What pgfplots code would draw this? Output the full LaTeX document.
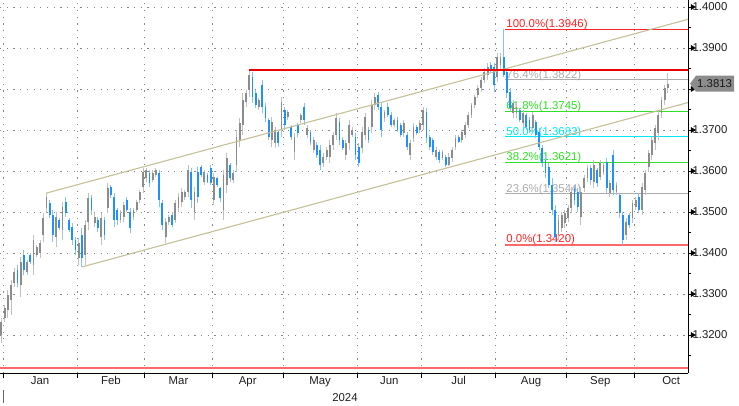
\documentclass[border=0pt]{standalone}
\usepackage{fontspec}
\setmainfont{Liberation Sans}
\usepackage{pgfplots}
\usepackage{pgfplotstable}
\pgfplotsset{compat=1.18}
\definecolor{bluebody}{RGB}{30,144,255}
\definecolor{bluewick}{RGB}{135,192,255}
\definecolor{graybody}{RGB}{140,140,140}
\definecolor{graywick}{RGB}{192,192,192}
\definecolor{chan}{RGB}{196,192,152}
\definecolor{fibred}{RGB}{255,35,35}
\definecolor{fibredz}{RGB}{255,105,105}
\definecolor{fibgreen}{RGB}{45,225,35}
\definecolor{fibcyan}{RGB}{0,232,245}
\definecolor{fibgray}{RGB}{172,172,172}
\definecolor{gridgray}{RGB}{135,135,135}
\definecolor{lpgray}{RGB}{140,140,140}
\newcommand\lf{\fontsize{11.4bp}{13.5bp}\selectfont}
\pgfplotstableread{
d o h l c
-1 1.3200 1.3241 1.3180 1.3232
0 1.3241 1.3273 1.3232 1.3266
1 1.3261 1.3310 1.3241 1.3297
2 1.3285 1.3334 1.3249 1.3322
3 1.3327 1.3363 1.3317 1.3354
5 1.3322 1.3390 1.3293 1.3378
7 1.3354 1.3383 1.3346 1.3378
9 1.3371 1.3444 1.3346 1.3432
10 1.3395 1.3420 1.3390 1.3415
11 1.3400 1.3432 1.3388 1.3424
12 1.3444 1.3498 1.3427 1.3485
13 1.3510 1.3546 1.3498 1.3537
16 1.3439 1.3500 1.3415 1.3488
18 1.3456 1.3524 1.3432 1.3512
23 1.3388 1.3437 1.3371 1.3424
25 1.3395 1.3480 1.3371 1.3468
26 1.3476 1.3546 1.3456 1.3534
28 1.3473 1.3498 1.3463 1.3488
30 1.3439 1.3498 1.3420 1.3485
32 1.3510 1.3571 1.3498 1.3559
36 1.3480 1.3505 1.3473 1.3498
37 1.3488 1.3524 1.3476 1.3517
40 1.3488 1.3510 1.3480 1.3505
41 1.3505 1.3529 1.3500 1.3524
42 1.3529 1.3554 1.3522 1.3549
43 1.3561 1.3607 1.3546 1.3597
44 1.3583 1.3607 1.3573 1.3602
46 1.3578 1.3602 1.3573 1.3595
47 1.3590 1.3607 1.3585 1.3602
50 1.3439 1.3485 1.3424 1.3476
51 1.3476 1.3493 1.3468 1.3488
53 1.3480 1.3529 1.3473 1.3522
54 1.3510 1.3546 1.3500 1.3537
55 1.3524 1.3559 1.3512 1.3549
56 1.3537 1.3554 1.3529 1.3549
57 1.3549 1.3615 1.3537 1.3602
59 1.3500 1.3561 1.3480 1.3549
62 1.3573 1.3602 1.3566 1.3597
65 1.3529 1.3595 1.3517 1.3585
68 1.3505 1.3602 1.3480 1.3590
69 1.3566 1.3644 1.3546 1.3632
71 1.3578 1.3602 1.3571 1.3595
72 1.3615 1.3700 1.3597 1.3683
73 1.3676 1.3729 1.3659 1.3717
74 1.3712 1.3790 1.3688 1.3773
75 1.3768 1.3798 1.3756 1.3790
76 1.3798 1.3846 1.3780 1.3834
79 1.3756 1.3778 1.3749 1.3773
83 1.3676 1.3732 1.3659 1.3719
84 1.3668 1.3707 1.3656 1.3700
86 1.3700 1.3780 1.3683 1.3768
88 1.3732 1.3749 1.3724 1.3744
90 1.3646 1.3693 1.3627 1.3683
92 1.3724 1.3741 1.3717 1.3737
94 1.3688 1.3712 1.3681 1.3705
96 1.3651 1.3683 1.3644 1.3676
99 1.3620 1.3644 1.3610 1.3634
100 1.3634 1.3659 1.3627 1.3651
101 1.3634 1.3676 1.3620 1.3663
102 1.3663 1.3695 1.3651 1.3688
103 1.3688 1.3741 1.3676 1.3729
106 1.3639 1.3676 1.3627 1.3668
107 1.3668 1.3724 1.3651 1.3712
108 1.3688 1.3707 1.3683 1.3700
111 1.3656 1.3707 1.3644 1.3695
112 1.3688 1.3741 1.3676 1.3732
114 1.3707 1.3773 1.3693 1.3761
115 1.3761 1.3790 1.3749 1.3780
118 1.3729 1.3749 1.3719 1.3744
121 1.3712 1.3729 1.3707 1.3724
124 1.3693 1.3724 1.3683 1.3717
126 1.3639 1.3676 1.3627 1.3668
127 1.3681 1.3717 1.3671 1.3707
129 1.3700 1.3724 1.3693 1.3717
130 1.3712 1.3756 1.3700 1.3749
134 1.3634 1.3659 1.3627 1.3651
136 1.3632 1.3651 1.3627 1.3646
138 1.3615 1.3644 1.3612 1.3634
139 1.3632 1.3659 1.3622 1.3651
140 1.3659 1.3688 1.3651 1.3681
142 1.3676 1.3700 1.3668 1.3695
143 1.3688 1.3719 1.3681 1.3712
144 1.3712 1.3744 1.3705 1.3737
145 1.3737 1.3766 1.3729 1.3761
146 1.3761 1.3785 1.3754 1.3780
147 1.3785 1.3810 1.3778 1.3803
148 1.3803 1.3829 1.3793 1.3822
149 1.3822 1.3851 1.3815 1.3842
150 1.3834 1.3863 1.3822 1.3854
153 1.3829 1.3888 1.3817 1.3878
154 1.3859 1.3888 1.3846 1.3878
158 1.3741 1.3773 1.3729 1.3766
159 1.3741 1.3766 1.3729 1.3756
161 1.3717 1.3749 1.3705 1.3741
164 1.3705 1.3744 1.3695 1.3737
172 1.3444 1.3493 1.3432 1.3480
173 1.3461 1.3500 1.3451 1.3493
174 1.3473 1.3505 1.3461 1.3498
175 1.3485 1.3517 1.3476 1.3510
176 1.3510 1.3561 1.3498 1.3549
179 1.3488 1.3561 1.3468 1.3549
180 1.3559 1.3590 1.3549 1.3583
181 1.3583 1.3615 1.3573 1.3607
183 1.3573 1.3627 1.3559 1.3615
185 1.3585 1.3627 1.3578 1.3620
186 1.3597 1.3622 1.3590 1.3615
188 1.3546 1.3578 1.3537 1.3571
190 1.3549 1.3573 1.3542 1.3566
193 1.3444 1.3485 1.3432 1.3476
195 1.3485 1.3529 1.3473 1.3522
196 1.3512 1.3537 1.3505 1.3529
198 1.3505 1.3571 1.3493 1.3561
199 1.3554 1.3602 1.3542 1.3595
200 1.3610 1.3651 1.3597 1.3644
201 1.3639 1.3683 1.3627 1.3676
202 1.3668 1.3712 1.3651 1.3705
203 1.3693 1.3749 1.3676 1.3737
204 1.3741 1.3780 1.3729 1.3773
205 1.3773 1.3810 1.3761 1.3803
206 1.3803 1.3839 1.3790 1.3813
}\upbars
\pgfplotstableread{
d o h l c
4 1.3358 1.3371 1.3317 1.3327
6 1.3395 1.3407 1.3346 1.3358
8 1.3395 1.3400 1.3373 1.3378
14 1.3522 1.3529 1.3485 1.3493
15 1.3493 1.3505 1.3427 1.3444
17 1.3480 1.3485 1.3456 1.3461
19 1.3524 1.3537 1.3488 1.3498
20 1.3480 1.3485 1.3451 1.3456
21 1.3463 1.3473 1.3420 1.3432
22 1.3432 1.3439 1.3395 1.3407
24 1.3444 1.3461 1.3366 1.3388
27 1.3534 1.3542 1.3493 1.3505
29 1.3480 1.3488 1.3451 1.3461
31 1.3480 1.3488 1.3432 1.3444
33 1.3561 1.3566 1.3534 1.3542
34 1.3537 1.3546 1.3463 1.3480
35 1.3505 1.3510 1.3468 1.3480
38 1.3529 1.3537 1.3500 1.3505
39 1.3500 1.3510 1.3449 1.3461
45 1.3595 1.3602 1.3561 1.3571
48 1.3595 1.3602 1.3512 1.3529
49 1.3522 1.3529 1.3456 1.3468
52 1.3493 1.3500 1.3463 1.3468
58 1.3597 1.3607 1.3510 1.3529
60 1.3597 1.3610 1.3522 1.3537
61 1.3610 1.3615 1.3585 1.3590
63 1.3590 1.3595 1.3571 1.3573
64 1.3607 1.3615 1.3566 1.3571
66 1.3583 1.3585 1.3561 1.3566
67 1.3559 1.3561 1.3524 1.3534
70 1.3615 1.3620 1.3573 1.3583
77 1.3829 1.3842 1.3766 1.3780
78 1.3790 1.3798 1.3754 1.3761
80 1.3810 1.3822 1.3741 1.3756
81 1.3756 1.3766 1.3719 1.3729
82 1.3724 1.3729 1.3676 1.3683
85 1.3695 1.3700 1.3659 1.3668
87 1.3749 1.3756 1.3700 1.3712
89 1.3707 1.3712 1.3676 1.3683
91 1.3712 1.3717 1.3683 1.3693
93 1.3756 1.3766 1.3712 1.3724
95 1.3695 1.3700 1.3663 1.3671
97 1.3663 1.3671 1.3632 1.3639
98 1.3651 1.3663 1.3602 1.3615
104 1.3719 1.3729 1.3663 1.3676
105 1.3676 1.3683 1.3651 1.3656
109 1.3683 1.3693 1.3627 1.3639
110 1.3659 1.3668 1.3610 1.3620
113 1.3700 1.3707 1.3668 1.3676
116 1.3785 1.3793 1.3749 1.3756
117 1.3756 1.3768 1.3683 1.3700
119 1.3756 1.3766 1.3732 1.3737
120 1.3737 1.3744 1.3707 1.3712
122 1.3724 1.3732 1.3695 1.3700
123 1.3712 1.3717 1.3683 1.3688
125 1.3688 1.3695 1.3651 1.3659
128 1.3707 1.3712 1.3688 1.3693
131 1.3744 1.3754 1.3668 1.3681
132 1.3683 1.3688 1.3651 1.3659
133 1.3676 1.3681 1.3639 1.3646
135 1.3646 1.3651 1.3620 1.3627
137 1.3634 1.3639 1.3610 1.3615
141 1.3683 1.3688 1.3668 1.3671
151 1.3859 1.3866 1.3842 1.3846
152 1.3854 1.3863 1.3793 1.3810
155 1.3878 1.3946 1.3829 1.3834
156 1.3842 1.3851 1.3778 1.3790
157 1.3793 1.3803 1.3744 1.3754
160 1.3749 1.3754 1.3719 1.3724
162 1.3737 1.3741 1.3700 1.3707
163 1.3724 1.3732 1.3693 1.3700
165 1.3719 1.3724 1.3681 1.3688
166 1.3695 1.3705 1.3651 1.3659
167 1.3656 1.3663 1.3610 1.3620
168 1.3627 1.3639 1.3583 1.3595
169 1.3610 1.3620 1.3559 1.3566
170 1.3566 1.3583 1.3493 1.3505
171 1.3505 1.3517 1.3427 1.3439
177 1.3559 1.3566 1.3517 1.3529
178 1.3549 1.3559 1.3500 1.3512
182 1.3607 1.3615 1.3566 1.3578
184 1.3602 1.3607 1.3561 1.3571
187 1.3622 1.3632 1.3546 1.3559
189 1.3639 1.3651 1.3542 1.3554
191 1.3542 1.3546 1.3485 1.3498
192 1.3493 1.3500 1.3420 1.3432
194 1.3493 1.3498 1.3461 1.3468
197 1.3537 1.3546 1.3498 1.3505
}\downbars
\begin{document}
\begin{tikzpicture}
\begin{axis}[
  at={(0,0)}, anchor=south west,
  scale only axis, width=688bp, height=373bp,
  xmin=-1.4286, xmax=212.236, ymin=1.31074, ymax=1.40171,
  clip=false,
  axis x line*=bottom, axis y line*=right,
  axis line style={black, line width=0.9bp},
  tick align=outside,
  major tick length=5bp, minor tick length=3bp,
  tick style={black, line width=0.9bp},
  xtick={-0.5,22.5,43.5,64.5,86.5,109.5,129.5,152.5,174.5,195.5},
  xticklabels={{},{},{},{},{},{},{},{},{},{}},
  xmajorgrids=true,
  extra x ticks={11,33,54,75.5,98,119.5,141,163.5,185,207},
  extra x tick labels={Jan,Feb,Mar,Apr,May,Jun,Jul,Aug,Sep,Oct},
  extra x tick style={major tick length=0bp, grid=none},
  ytick={1.32,1.33,1.34,1.35,1.36,1.37,1.38,1.39,1.40},
  yticklabels={1.3200,1.3300,1.3400,1.3500,1.3600,1.3700,{},1.3900,1.4000},
  minor ytick={1.315,1.325,1.335,1.345,1.355,1.365,1.375,1.385,1.395},
  ymajorgrids=true,
  grid style={gridgray, line width=0.8bp, dash pattern=on 1.2bp off 5.5bp},
  tick label style={font=\lf, text=black!88},
  yticklabel style={anchor=west, xshift=-4bp},
]
% Fibonacci retracement
\addplot[fibred, line width=1bp, forget plot] coordinates {(155.4,1.3946) (212.236,1.3946)};
\addplot[fibgray, line width=1bp, forget plot] coordinates {(155.4,1.3822) (212.236,1.3822)};
\addplot[fibgreen, line width=1bp, forget plot] coordinates {(155.4,1.3745) (212.236,1.3745)};
\addplot[fibcyan, line width=1bp, forget plot] coordinates {(155.4,1.3683) (212.236,1.3683)};
\addplot[fibgreen, line width=1bp, forget plot] coordinates {(155.4,1.3621) (212.236,1.3621)};
\addplot[fibgray, line width=1bp, forget plot] coordinates {(155.4,1.3544) (212.236,1.3544)};
\addplot[fibredz, line width=2bp, forget plot] coordinates {(155.4,1.3420) (212.236,1.3420)};
\node[anchor=base west, inner sep=0pt, yshift=1.8bp, text=fibred, font=\lf] at (axis cs:155.8,1.3946) {100.0\%(1.3946)};
\node[anchor=base west, inner sep=0pt, yshift=1.8bp, text=fibgray, font=\lf] at (axis cs:155.8,1.3822) {76.4\%(1.3822)};
\node[anchor=base west, inner sep=0pt, yshift=1.8bp, text=fibgreen, font=\lf] at (axis cs:155.8,1.3745) {61.8\%(1.3745)};
\node[anchor=base west, inner sep=0pt, yshift=1.8bp, text=fibcyan, font=\lf] at (axis cs:155.8,1.3683) {50.0\%(1.3683)};
\node[anchor=base west, inner sep=0pt, yshift=1.8bp, text=fibgreen, font=\lf] at (axis cs:155.8,1.3621) {38.2\%(1.3621)};
\node[anchor=base west, inner sep=0pt, yshift=1.8bp, text=fibgray, font=\lf] at (axis cs:155.8,1.3544) {23.6\%(1.3544)};
\node[anchor=base west, inner sep=0pt, yshift=2.2bp, text=fibred, font=\lf] at (axis cs:155.8,1.3420) {0.0\%(1.3420)};
% candles: wicks then bodies
\addplot[draw=none, mark=none, forget plot, error bars/.cd, y dir=plus, y explicit, error mark=none,
  error bar style={draw=graywick, line width=1bp}]
  table[x=d, y=l, y error expr=\thisrow{h}-\thisrow{l}] {\upbars};
\addplot[draw=none, mark=none, forget plot, error bars/.cd, y dir=plus, y explicit, error mark=none,
  error bar style={draw=bluewick, line width=1bp}]
  table[x=d, y=l, y error expr=\thisrow{h}-\thisrow{l}] {\downbars};
\addplot[draw=none, mark=none, forget plot, error bars/.cd, y dir=plus, y explicit, error mark=none,
  error bar style={draw=graybody, line width=1.8bp}]
  table[x=d, y=o, y error expr=\thisrow{c}-\thisrow{o}] {\upbars};
\addplot[draw=none, mark=none, forget plot, error bars/.cd, y dir=plus, y explicit, error mark=none,
  error bar style={draw=bluebody, line width=1.8bp}]
  table[x=d, y=c, y error expr=\thisrow{o}-\thisrow{c}] {\downbars};
% channel
\addplot[chan, line width=1.1bp, forget plot] coordinates {(12.9,1.3546) (212.236,1.3970)};
\addplot[chan, line width=1.1bp, forget plot] coordinates {(24,1.3366) (212.236,1.3767)};
% horizontal red lines
\addplot[red!92!black, line width=1.8bp, forget plot] coordinates {(76,1.3846) (212.236,1.3846)};
\addplot[fibredz, line width=1.5bp, forget plot] coordinates {(-1.4286,1.3120) (212.236,1.3120)};
% y tick arrows
\addplot[only marks, mark=triangle*, mark size=3bp, forget plot,
  mark options={xshift=4.5bp, rotate=-90, fill=black, draw=none}]
  coordinates {(212.236,1.32) (212.236,1.33) (212.236,1.34) (212.236,1.35) (212.236,1.36) (212.236,1.37) (212.236,1.38) (212.236,1.39) (212.236,1.40)};
\coordinate (lp) at (axis cs:212.236,1.3813);
\coordinate (yr) at (axis cs:105.7,1.31074);
\coordinate (ys) at (axis cs:-0.5,1.31074);
\end{axis}
% last price marker
\fill[lpgray] ([xshift=2bp]lp) -- ++(6bp,8bp) -- ++(38bp,0) -- ++(0,-16bp) -- ++(-38bp,0) -- cycle;
\node[anchor=west, inner sep=0pt, font=\lf, text=black!90] at ([xshift=9bp]lp) {1.3813};
\node[anchor=north, inner sep=0pt, font=\lf, text=black!88] at ([yshift=-20bp]yr) {2024};
\draw[gray!80!black, line width=0.9bp] ([yshift=-17bp]ys) -- ([yshift=-30bp]ys);
\pgfresetboundingbox
\path[use as bounding box] (0,-33bp) rectangle (739bp,373bp);
\end{tikzpicture}
\end{document}
